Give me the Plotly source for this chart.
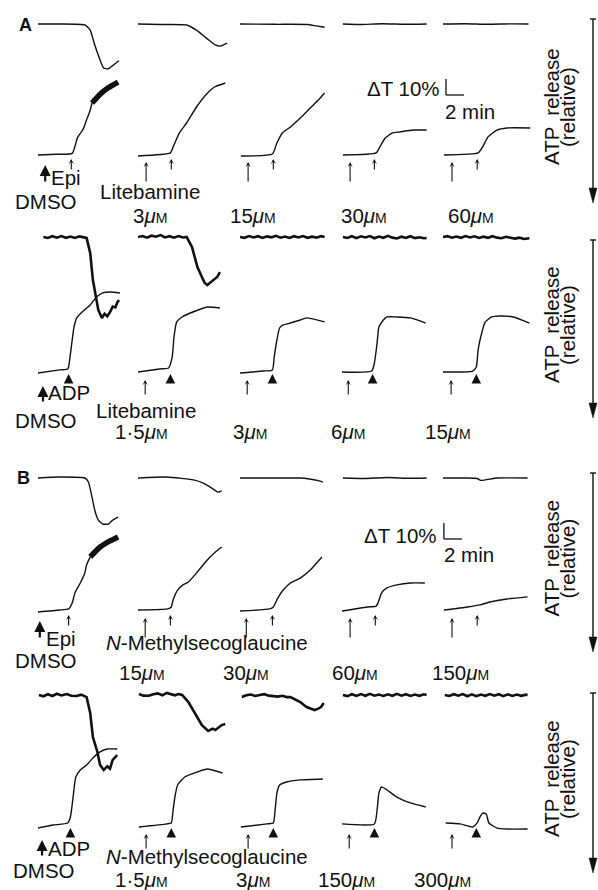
import plotly.graph_objects as go

W, H = 598, 890

# ======================= DATA =======================
# time in min from start of each recording
# aggregation: light-transmission change dT (%) above baseline
# ATP: relative release (arbitrary units, drawn downward)

# ---- A, upper row: Epi, Litebamine ----
A1_ATP_T = [[0, 2.4, 5.2, 5.8, 6.3, 6.9, 7.3, 7.8, 8.3, 9.0],
            [0, 2.5, 5.4, 6.5, 7.6, 8.6, 9.1, 9.9],
            [0, 4, 7.5, 8.5, 9.4],
            [0.1, 2, 4.5, 7, 9.4],
            [0, 2.5, 5, 7.5, 9.5]]
A1_ATP_V = [[0, 0, 0.6, 3.8, 13, 22.5, 27.5, 28, 26, 23],
            [0, 0.3, 0.6, 3.8, 8.8, 13.1, 13.8, 11.9],
            [0, 0.2, 0.3, 1.2, 2.0],
            [0, 0.3, -0.2, 0.2, 0],
            [0, -0.2, 0.2, -0.1, 0]]
A1_AGG_T = [[0, 2, 3.8, 4.4, 5.0, 5.4, 5.8, 6.0],
            [0, 3.6, 3.9, 4.6, 5.4, 6.5, 7.6, 8.5, 9.7],
            [0.1, 3.6, 4.1, 4.7, 5.6, 6.7, 7.8, 8.7, 9.4],
            [0.1, 3.8, 4.2, 4.8, 5.6, 6.4, 7.9, 9.4],
            [0.1, 3.9, 4.4, 5.0, 6.0, 7.1, 9.7]]
A1_AGG_V = [[0, 0.5, 1, 11, 16, 22, 28, 32.5],
            [-0.6, 1.3, 5, 13.8, 20, 30, 38, 42.5, 45],
            [-0.6, 0.6, 7.5, 13.8, 17.5, 23.1, 29.4, 34.4, 38.8],
            [0, 1.3, 5, 10.6, 13.8, 14.4, 15.6, 15.6],
            [0, 1.3, 5, 11.3, 15.6, 16.9, 16.9]]
A1_NOISY_T = [6.0, 6.9, 7.8, 8.9]
A1_NOISY_V = [32.5, 38, 42, 45.6]
A1_ADD1 = [0.8, 0.9, 0.9, 0.9, 1.0]
A1_ADD2 = [3.7, 3.7, 3.7, 3.6, 3.8]
A1_CONC = ["3", "15", "30", "60"]

# ---- A, lower row: ADP, Litebamine ----
A2_ATP_T = [[0.6, 1.1, 1.6, 2.1, 2.6, 3.1, 3.6, 4.1, 4.6, 5.1, 5.4, 5.8, 6.1, 6.7, 7.1, 7.4, 7.7, 8.0, 8.3, 8.6, 8.8, 9.0],
            [0, 0.5, 1.0, 1.5, 2.0, 2.5, 3.0, 3.5, 4.0, 4.5, 5.0, 5.4, 6.0, 6.6, 7.1, 7.4, 7.7, 8.0, 8.2, 8.5, 8.8, 9.1],
            [0, 0.5, 1.0, 1.5, 2.0, 2.5, 3.0, 3.5, 4.0, 4.5, 5.0, 5.5, 6.0, 6.5, 7.0, 7.5, 8.0, 8.5, 9.0, 9.4],
            [0.1, 0.6, 1.1, 1.6, 2.1, 2.6, 3.1, 3.6, 4.1, 4.6, 5.1, 5.6, 6.1, 6.6, 7.1, 7.6, 8.1, 8.6, 9.1, 9.4],
            [0, 0.5, 1.0, 1.5, 2.0, 2.5, 3.0, 3.5, 4.0, 4.5, 5.0, 5.5, 6.0, 6.5, 7.0, 7.5, 8.0, 8.5, 9.0, 9.6]]
A2_ATP_V = [[0, 0.6, -0.5, 0.4, -0.6, 0.5, -0.3, 0.6, -0.4, 0.5, 0.6, 10, 26.9, 45.6, 50.6, 48, 49.5, 47, 43.5, 44, 41, 39.4],
            [0, -0.6, 0.4, -0.8, -0.2, -1.2, 0.3, -0.5, 0.4, -0.6, 0.3, 0, 6.3, 18.8, 25, 28.5, 30, 28.5, 28.1, 26.5, 25, 21.9],
            [0, 0.5, -0.6, 0.3, -0.5, 0.6, -0.4, 0.2, -0.7, 0.4, -0.3, 0.6, -0.5, 0.3, -0.6, 0.5, -0.2, 0.4, -0.5, 0],
            [0, 0.6, -0.5, 0.7, -0.4, 0.3, -0.6, 0.8, -0.3, 0.5, -0.7, 0.4, 0.9, -0.2, 0.6, -0.5, 0.7, 0.2, 0.8, 0.6],
            [0, -0.5, 0.4, -0.3, 0.5, -0.6, 0.3, -0.4, 0.6, -0.2, 0.5, -0.5, 0.4, 0.8, -0.1, 0.6, 1.0, 0.4, 1.2, 0.8]]
A2_AGG_T = [[0, 2.4, 3.3, 3.4, 3.8, 4.0, 4.3, 4.9, 5.8, 6.5, 7.2, 8.0, 9.1],
            [0, 2.4, 3.4, 3.8, 4.0, 4.3, 4.9, 6.1, 7.7, 9.1],
            [0, 2.6, 3.6, 3.8, 4.1, 4.4, 4.8, 5.6, 6.7, 7.4, 9.4],
            [0, 3.3, 3.6, 3.9, 4.1, 4.6, 5.0, 6.1, 7.6, 9.3],
            [0, 3.3, 3.7, 3.9, 4.3, 4.7, 5.4, 6.3, 7.8, 9.6]]
A2_AGG_V = [[-0.6, 1.3, 1.9, 3.1, 20, 28, 33.8, 37.5, 41.9, 46.9, 49.4, 50, 49.4],
            [0, 1.9, 2.5, 9.4, 21.9, 31.3, 34.4, 37.5, 40.6, 40],
            [-0.6, 0.6, 1.3, 9.4, 20, 27.5, 29.4, 30.6, 32.5, 33.8, 31.3],
            [0, 0.6, 5.6, 18.1, 28.1, 32.5, 34.4, 34.4, 33.8, 30.6],
            [0, 0.6, 3.1, 13.8, 24.4, 31.3, 34.4, 35, 34.4, 30.6]]
A2_ADD1 = [0.55, 0.8, 0.8, 0.7, 0.9]
A2_ADD2 = [3.4, 3.6, 3.6, 3.4, 3.7]
A2_CONC = ["1·5", "3", "6", "15"]

# ---- B, upper row: Epi, N-Methylsecoglaucine ----
B1_ATP_T = [[0, 2.4, 5.2, 5.6, 6.0, 6.3, 6.7, 7.2, 7.8, 8.3, 8.9],
            [0, 3.2, 6.3, 7.2, 8.2, 8.9, 9.3],
            [0, 4, 6.7, 7.7, 8.6, 9.2],
            [0.1, 2.5, 5, 7.5, 9.4],
            [0, 2.5, 3.8, 4.2, 6, 9.4]]
B1_ATP_V = [[0, -0.6, 0, 2.5, 11.9, 20, 26.3, 28.8, 28.8, 26.3, 24.4],
            [0, -0.6, 1.3, 3.1, 6.3, 8.8, 8.1],
            [0, 0, 0, 0.6, 1.5, 2.5],
            [0, 0.3, -0.3, 0.2, 0],
            [0, 0, 0.3, 1.5, 0, 0]]
B1_AGG_T = [[0, 2.4, 3.4, 3.8, 4.1, 4.7, 5.2, 5.4, 5.8],
            [0, 3.3, 3.7, 3.9, 4.4, 5.0, 5.6, 6.6, 7.7, 8.6, 9.3],
            [0, 3.3, 3.7, 4.2, 4.8, 5.6, 6.7, 7.8, 9.1],
            [0, 2.8, 3.8, 4.0, 4.4, 5.0, 6.1, 7.6, 9.2],
            [0.1, 2.7, 4.1, 5.2, 7.1, 9.4]]
B1_AGG_V = [[-0.6, 0.6, 1.3, 5, 11.3, 17.5, 23.8, 28.8, 33.8],
            [0.6, 1.3, 2.5, 6.9, 13.1, 16.3, 18.1, 24.4, 31.9, 36.9, 40],
            [0, 1.3, 2.5, 8.1, 13.1, 17.5, 20.6, 25.6, 33.8],
            [0, 2.5, 3.1, 5, 11.3, 14.4, 16.3, 17.5, 17.5],
            [0.6, 2.5, 3.8, 5.6, 7.5, 8.8]]
B1_NOISY_T = [5.8, 6.9, 8.0, 8.9]
B1_NOISY_V = [33.8, 40, 43.8, 46.3]
B1_ADD1 = [0.2, 0.8, 0.7, 0.9, 1.0]
B1_ADD2 = [3.4, 3.6, 3.6, 3.7, 3.8]
B1_CONC = ["15", "30", "60", "150"]

# ---- B, lower row: ADP, N-Methylsecoglaucine ----
B2_ATP_T = [[0.1, 0.6, 1.1, 1.6, 2.1, 2.6, 3.2, 3.7, 4.3, 4.8, 5.4, 5.8, 6.1, 6.6, 6.9, 7.3, 7.7, 8.0, 8.3, 8.8],
            [0.1, 0.6, 1.2, 1.7, 2.2, 2.7, 3.2, 3.7, 4.1, 4.5, 4.9, 5.6, 6.3, 7.1, 7.8, 8.1, 8.3, 8.6, 8.9, 9.3, 9.7],
            [0.2, 0.7, 1.2, 1.7, 2.2, 2.7, 3.2, 3.7, 4.2, 4.7, 5.2, 5.6, 6.2, 6.7, 7.1, 7.4, 7.9, 8.3, 8.7, 9.0, 9.3],
            [0.1, 0.6, 1.1, 1.6, 2.1, 2.6, 3.1, 3.6, 4.1, 4.6, 5.1, 5.6, 6.1, 6.6, 7.1, 7.6, 8.1, 8.6, 9.1, 9.4],
            [0.2, 0.7, 1.2, 1.7, 2.2, 2.7, 3.2, 3.7, 4.2, 4.7, 5.2, 5.7, 6.2, 6.7, 7.2, 7.7, 8.2, 8.7, 9.2, 9.4]]
B2_ATP_V = [[0, 0.8, -0.5, 0.6, -0.8, 0.3, -0.6, 0.5, 0.6, -0.2, 1.3, 11.3, 26.3, 35.6, 43.8, 46.9, 44.5, 46, 40.6, 37.5],
            [-0.6, 0.4, 0.5, -0.5, -1, 0.2, -1.3, -0.3, 0.2, -0.6, 0, 4.4, 11.3, 18.8, 22.5, 21.5, 21, 21.9, 20.5, 18.8, 18.1],
            [1.3, 0.2, -0.3, 0.6, 0, -0.5, 0.4, 0.8, 1, 0.5, 1.3, 1.3, 3.2, 4.4, 6.3, 7.5, 8.6, 9.4, 8.5, 7.5, 5],
            [0, 0.7, -0.5, 0.6, -0.6, 0.5, -0.7, 0.4, -0.3, 0.6, -0.4, 0.5, -0.7, 0.4, -0.5, 0.6, -0.3, 0.5, -0.4, 0],
            [0, 0.6, -0.5, 0.4, -0.6, 0.8, -0.4, 0.7, -0.3, 0.5, -0.6, 0.4, -0.5, 0.7, -0.4, 0.6, -0.3, 0.5, -0.2, 0]]
B2_AGG_T = [[0, 1.7, 3.3, 3.6, 3.9, 4.2, 4.7, 5.4, 6.1, 6.9, 7.7, 8.8],
            [0.1, 3.2, 3.7, 3.9, 4.1, 4.4, 5.2, 6.6, 7.7, 9.4],
            [0.1, 3.0, 3.7, 3.9, 4.1, 4.4, 5.2, 6.7, 9.2],
            [0, 3.6, 3.9, 4.1, 4.4, 5.0, 6.1, 7.6, 9.3],
            [0.3, 1.9, 3.3, 3.8, 4.1, 4.4, 4.8, 5.1, 6.0, 7.1, 9.4]]
B2_AGG_V = [[-1.3, 0.6, 1.9, 5.6, 18.1, 30.6, 35, 38.1, 42.5, 46.3, 48.1, 48.1],
            [-0.6, 1.3, 1.9, 10, 18.1, 25.6, 30.6, 33.8, 35.6, 33.1],
            [-0.6, 1.3, 1.9, 10, 20.6, 25.6, 27.5, 28.8, 29.4],
            [1.3, 1.3, 10, 20.6, 24.4, 22.5, 18.1, 14.4, 11.9],
            [1.9, 1.3, -0.6, 1.9, 5.6, 8.1, 7.5, 1.9, -1.3, -1.9, -1.9]]
B2_ADD1 = [0.45, 0.9, 0.9, 0.8, 1.0]
B2_ADD2 = [3.6, 3.7, 3.7, 3.6, 3.7]
B2_CONC = ["1·5", "3", "150", "300"]

SCALE_MIN = 2      # scale bar: 2 min
SCALE_PCT = 10     # scale bar: dT 10 %

# ======================= LAYOUT =======================
FONT = "Liberation Sans, Arial, Helvetica, sans-serif"
FS = 20.5
PPU = 1.6          # px per % (and per ATP unit)
COL_X0 = [38, 138, 240, 342, 443]
COL_W = 90         # px for 10 min
T_RANGE = [0, 10]

ROWS = [
    dict(name="A1", top=4, bottom=228, atp_base=24, agg_base=155, noisy=False,
         atp_t=A1_ATP_T, atp_v=A1_ATP_V, agg_t=A1_AGG_T, agg_v=A1_AGG_V,
         thick=(A1_NOISY_T, A1_NOISY_V), add1=A1_ADD1, add2=A1_ADD2, agonist="Epi"),
    dict(name="A2", top=226, bottom=446, atp_base=237, agg_base=372, noisy=True,
         atp_t=A2_ATP_T, atp_v=A2_ATP_V, agg_t=A2_AGG_T, agg_v=A2_AGG_V,
         thick=None, add1=A2_ADD1, add2=A2_ADD2, agonist="ADP"),
    dict(name="B1", top=446, bottom=666, atp_base=478, agg_base=611, noisy=False,
         atp_t=B1_ATP_T, atp_v=B1_ATP_V, agg_t=B1_AGG_T, agg_v=B1_AGG_V,
         thick=(B1_NOISY_T, B1_NOISY_V), add1=B1_ADD1, add2=B1_ADD2, agonist="Epi"),
    dict(name="B2", top=666, bottom=888, atp_base=695, agg_base=826, noisy=True,
         atp_t=B2_ATP_T, atp_v=B2_ATP_V, agg_t=B2_AGG_T, agg_v=B2_AGG_V,
         thick=None, add1=B2_ADD1, add2=B2_ADD2, agonist="ADP"),
]


def px(x):
    return x / W


def py(y):
    return 1 - y / H


def ykey(i):
    return "yaxis" if i == 1 else f"yaxis{i}"


def yref(i):
    return "y" if i == 1 else f"y{i}"


def xref(i):
    return "x" if i == 1 else f"x{i}"


fig = go.Figure()
layout_axes = {}
for c, x0 in enumerate(COL_X0):
    key = "xaxis" if c == 0 else f"xaxis{c + 1}"
    layout_axes[key] = dict(domain=[px(x0), px(x0 + COL_W)], range=T_RANGE,
                            visible=False, anchor="y", fixedrange=True)

annotations = []
shapes = []
BLACK = "#111"

for r, row in enumerate(ROWS):
    agg_i, atp_i = 2 * r + 1, 2 * r + 2
    dom = [py(row["bottom"]), py(row["top"])]
    layout_axes[ykey(agg_i)] = dict(
        domain=dom, visible=False, anchor="x", fixedrange=True,
        range=[(row["agg_base"] - row["bottom"]) / PPU, (row["agg_base"] - row["top"]) / PPU])
    layout_axes[ykey(atp_i)] = dict(
        domain=dom, visible=False, anchor="x", fixedrange=True,
        range=[(row["bottom"] - row["atp_base"]) / PPU, (row["top"] - row["atp_base"]) / PPU])

    for c in range(5):
        xa = xref(c + 1)
        # ATP trace
        if row["noisy"]:
            atp_line = dict(color=BLACK, width=2.6, shape="linear")
        else:
            atp_line = dict(color=BLACK, width=1.4, shape="spline", smoothing=0.5)
        fig.add_trace(go.Scatter(
            x=row["atp_t"][c], y=row["atp_v"][c], xaxis=xa, yaxis=yref(atp_i),
            mode="lines", hoverinfo="skip", showlegend=False, line=atp_line))
        # aggregation trace
        fig.add_trace(go.Scatter(
            x=row["agg_t"][c], y=row["agg_v"][c], xaxis=xa, yaxis=yref(agg_i),
            mode="lines", hoverinfo="skip", showlegend=False,
            line=dict(color=BLACK, width=1.4, shape="spline", smoothing=0.5)))
        if c == 0 and row["thick"] is not None:
            fig.add_trace(go.Scatter(
                x=row["thick"][0], y=row["thick"][1], xaxis=xa, yaxis=yref(agg_i),
                mode="lines", hoverinfo="skip", showlegend=False,
                line=dict(color=BLACK, width=5.5, shape="spline", smoothing=0.5)))

        # addition arrows
        bold = (c == 0)
        if row["agonist"] == "Epi":
            h1, l1 = (10, 18) if bold else (7, 21)
            h2, l2 = 4, 12
        else:
            h1, l1 = (14, 17) if bold else (8, 16)
            h2, l2 = 2, 6
        annotations.append(dict(
            x=row["add1"][c], y=-h1 / PPU, xref=xa, yref=yref(agg_i),
            showarrow=True, ax=0, ay=l1, text="",
            arrowhead=2 if bold else 3, arrowsize=1.0 if bold else 0.8,
            arrowwidth=2.2 if bold else 1.1, arrowcolor=BLACK, standoff=0))
        annotations.append(dict(
            x=row["add2"][c], y=-h2 / PPU, xref=xa, yref=yref(agg_i),
            showarrow=True, ax=0, ay=l2, text="",
            arrowhead=3 if row["agonist"] == "Epi" else 2,
            arrowsize=0.8 if row["agonist"] == "Epi" else 1.2,
            arrowwidth=1.1 if row["agonist"] == "Epi" else 1.6,
            arrowcolor=BLACK, standoff=0))

    # right-side ATP release arrow
    top_px = {"A1": 19, "A2": 240, "B1": 473, "B2": 693}[row["name"]]
    tip_px = {"A1": 203, "A2": 418, "B1": 652, "B2": 873}[row["name"]]
    shapes.append(dict(type="line", xref="paper", yref="paper",
                       x0=px(593), x1=px(593), y0=py(top_px), y1=py(tip_px - 10),
                       line=dict(color=BLACK, width=1.4)))
    shapes.append(dict(type="line", xref="paper", yref="paper",
                       x0=px(590), x1=px(596), y0=py(top_px), y1=py(top_px),
                       line=dict(color=BLACK, width=1.4)))
    shapes.append(dict(type="path", xref="paper", yref="paper",
                       path=f"M {px(589)} {py(tip_px - 15)} L {px(597)} {py(tip_px - 15)} "
                            f"L {px(593)} {py(tip_px)} Z",
                       fillcolor=BLACK, line=dict(color=BLACK, width=0.5)))
    mid = (top_px + tip_px) / 2 - 4
    annotations.append(dict(x=px(551), y=py(mid), xref="paper", yref="paper",
                            text="ATP  release", textangle=-90, showarrow=False,
                            xanchor="center", yanchor="middle",
                            font=dict(family=FONT, size=FS, color=BLACK)))
    annotations.append(dict(x=px(567), y=py(mid), xref="paper", yref="paper",
                            text="(relative)", textangle=-90, showarrow=False,
                            xanchor="center", yanchor="middle",
                            font=dict(family=FONT, size=FS, color=BLACK)))

    # scale bar (on column 5 axes)
    if row["agonist"] == "Epi":
        t0, v0 = (0.33, 37.5) if row["name"] == "A1" else (0.1, 45)
        shapes.append(dict(type="line", xref="x5", yref=yref(agg_i),
                           x0=t0, x1=t0, y0=v0, y1=v0 + SCALE_PCT,
                           line=dict(color=BLACK, width=1.3)))
        shapes.append(dict(type="line", xref="x5", yref=yref(agg_i),
                           x0=t0, x1=t0 + SCALE_MIN, y0=v0, y1=v0,
                           line=dict(color=BLACK, width=1.3)))


def label(text, x, y, xanchor="center", size=FS, bold=False):
    annotations.append(dict(
        x=px(x), y=py(y), xref="paper", yref="paper", text=text, showarrow=False,
        xanchor=xanchor, yanchor="middle", borderpad=0,
        font=dict(family=FONT, size=size, color=BLACK,
                  weight="bold" if bold else "normal")))


def conc(s):
    return f"{s}<i>μ</i><span style='font-size:14px'>M</span>"


# panel letters
label("A", 25, 25, size=18, bold=True)
label("B", 23, 478, size=18, bold=True)

# A1
label("Epi", 50, 178, xanchor="left")
label("DMSO", 46, 201)
label("Litebamine", 150, 192)
for s, x in zip(A1_CONC, [150, 253, 364, 471]):
    label(conc(s), x, 216)
label("ΔT 10%", 441, 89, xanchor="right")
label("2 min", 444, 111, xanchor="left")

# A2
label("ADP", 47, 392, xanchor="left")
label("DMSO", 46, 420)
label("Litebamine", 146, 410)
for s, x in zip(A2_CONC, [141, 250, 348, 448]):
    label(conc(s), x, 432)

# B1
label("Epi", 45, 638, xanchor="left")
label("DMSO", 46, 660)
label("<i>N</i>-Methylsecoglaucine", 207, 642)
for s, x in zip(B1_CONC, [142, 246, 355, 460]):
    label(conc(s), x, 672)
label("ΔT 10%", 438, 535, xanchor="right")
label("2 min", 443, 554, xanchor="left")

# B2
label("ADP", 47, 848, xanchor="left")
label("DMSO", 44, 870)
label("<i>N</i>-Methylsecoglaucine", 207, 856)
for s, x in zip(B2_CONC, [141, 253, 347, 443]):
    label(conc(s), x, 879)

fig.update_layout(
    width=W, height=H, margin=dict(l=0, r=0, t=0, b=0),
    paper_bgcolor="white", plot_bgcolor="rgba(0,0,0,0)",
    annotations=annotations, shapes=shapes, showlegend=False,
    **layout_axes)

fig.write_html("out.html",
               config={"displayModeBar": False, "staticPlot": True},
               post_script="document.body.style.margin='0';document.body.style.overflow='hidden';")
